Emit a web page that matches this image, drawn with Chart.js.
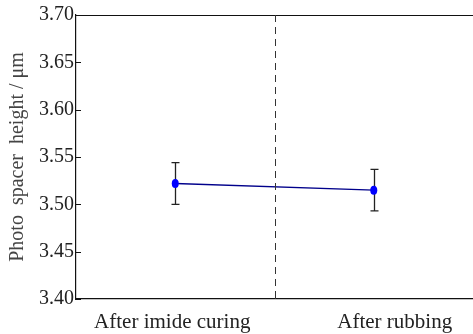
<!DOCTYPE html>
<html>
<head>
<meta charset="utf-8">
<script src="https://cdn.jsdelivr.net/npm/chart.js@4.4.0/dist/chart.umd.min.js"></script>
<style>
  html,body{margin:0;padding:0;background:#fff;}
  #wrap{width:473px;height:334px;position:relative;}
</style>
</head>
<body>
<div id="wrap"><canvas id="c" width="473" height="334"></canvas></div>
<script>
// Data
const stages = ["After imide curing", "After rubbing"];
const stageX = [1, 3];
const heights = [3.522, 3.515];
const errors = [0.022, 0.022];
const yTicks = [3.40, 3.45, 3.50, 3.55, 3.60, 3.65, 3.70];
const dividerX = 2;

const textColor = "#222";
const serif = "'Liberation Serif', 'DejaVu Serif', serif";
// the category captions sit a little off their points in the original
const labelShift = [-3, 21];

// error bars, inward y ticks, top frame line, dashed divider, x captions
const extras = {
  id: "extras",
  afterDatasetsDraw(chart){
    const ctx = chart.ctx;
    const x = chart.scales.x, y = chart.scales.y;
    const area = chart.chartArea;
    ctx.save();

    // top frame line
    ctx.strokeStyle = "#111";
    ctx.lineWidth = 1.2;
    ctx.beginPath();
    ctx.moveTo(area.left, area.top + 0.5);
    ctx.lineTo(area.right, area.top + 0.5);
    ctx.stroke();

    // inward y ticks
    ctx.lineWidth = 1;
    yTicks.forEach(v=>{
      const py = Math.round(y.getPixelForValue(v)) + 0.5;
      ctx.beginPath();
      ctx.moveTo(area.left, py);
      ctx.lineTo(area.left + 5, py);
      ctx.stroke();
    });

    // dashed divider
    const dx = Math.round(x.getPixelForValue(dividerX)) + 0.5;
    ctx.strokeStyle = "#333";
    ctx.setLineDash([7, 5]);
    ctx.beginPath();
    ctx.moveTo(dx, area.top);
    ctx.lineTo(dx, area.bottom);
    ctx.stroke();
    ctx.setLineDash([]);
    ctx.beginPath();
    ctx.moveTo(dx, area.bottom - 6);
    ctx.lineTo(dx, area.bottom);
    ctx.stroke();

    // error bars
    ctx.strokeStyle = "#222";
    ctx.lineWidth = 1.3;
    stageX.forEach((sx,i)=>{
      const px = Math.round(x.getPixelForValue(sx)) + 0.5;
      const top = y.getPixelForValue(heights[i] + errors[i]);
      const bot = y.getPixelForValue(heights[i] - errors[i]);
      ctx.beginPath();
      ctx.moveTo(px, top); ctx.lineTo(px, bot);
      ctx.moveTo(px - 4, top); ctx.lineTo(px + 4, top);
      ctx.moveTo(px - 4, bot); ctx.lineTo(px + 4, bot);
      ctx.stroke();
    });

    // points above error bars
    ctx.fillStyle = "#0000ff";
    stageX.forEach((sx,i)=>{
      const px = x.getPixelForValue(sx);
      const py = y.getPixelForValue(heights[i]);
      ctx.beginPath();
      ctx.ellipse(px, py, 3.5, 4.5, 0, 0, Math.PI*2);
      ctx.fill();
    });

    // x captions
    ctx.fillStyle = textColor;
    ctx.font = "21px " + serif;
    ctx.textAlign = "center";
    ctx.textBaseline = "alphabetic";
    stageX.forEach((sx,i)=>{
      ctx.fillText(stages[i], x.getPixelForValue(sx) + labelShift[i], area.bottom + 29);
    });
    ctx.restore();
  }
};

new Chart(document.getElementById("c"), {
  type: "line",
  data: {
    datasets: [{
      data: stageX.map((sx,i)=>({x: sx, y: heights[i]})),
      borderColor: "#00008b",
      borderWidth: 1.3,
      pointRadius: 0,
      tension: 0
    }]
  },
  options: {
    responsive: false,
    animation: false,
    layout: {padding: {top: 15, right: 0, left: 0, bottom: 0}},
    plugins: {legend: {display: false}, tooltip: {enabled: false}},
    scales: {
      x: {
        type: "linear",
        min: 0.0,
        max: 4.0,
        afterBuildTicks: (s)=>{ s.ticks = stageX.map(v=>({value: v})); },
        afterFit: (s)=>{ s.height = 35; },
        grid: {display: false, drawTicks: false},
        border: {display: true, color: "#111", width: 1.2},
        ticks: {display: false}
      },
      y: {
        min: 3.40,
        max: 3.70,
        afterBuildTicks: (s)=>{ s.ticks = yTicks.map(v=>({value: v})); },
        afterFit: (s)=>{ s.width = 76; },
        grid: {display: false, drawTicks: false},
        border: {display: true, color: "#111", width: 1.2},
        ticks: {
          color: textColor,
          font: {family: serif, size: 20},
          padding: 2,
          callback: (v)=>v.toFixed(2)
        },
        title: {
          display: true,
          text: "Photo  spacer  height / μm",
          color: "#444",
          font: {family: serif, size: 20},
          padding: {top: 6, bottom: 0}
        }
      }
    }
  },
  plugins: [extras]
});
</script>
</body>
</html>
